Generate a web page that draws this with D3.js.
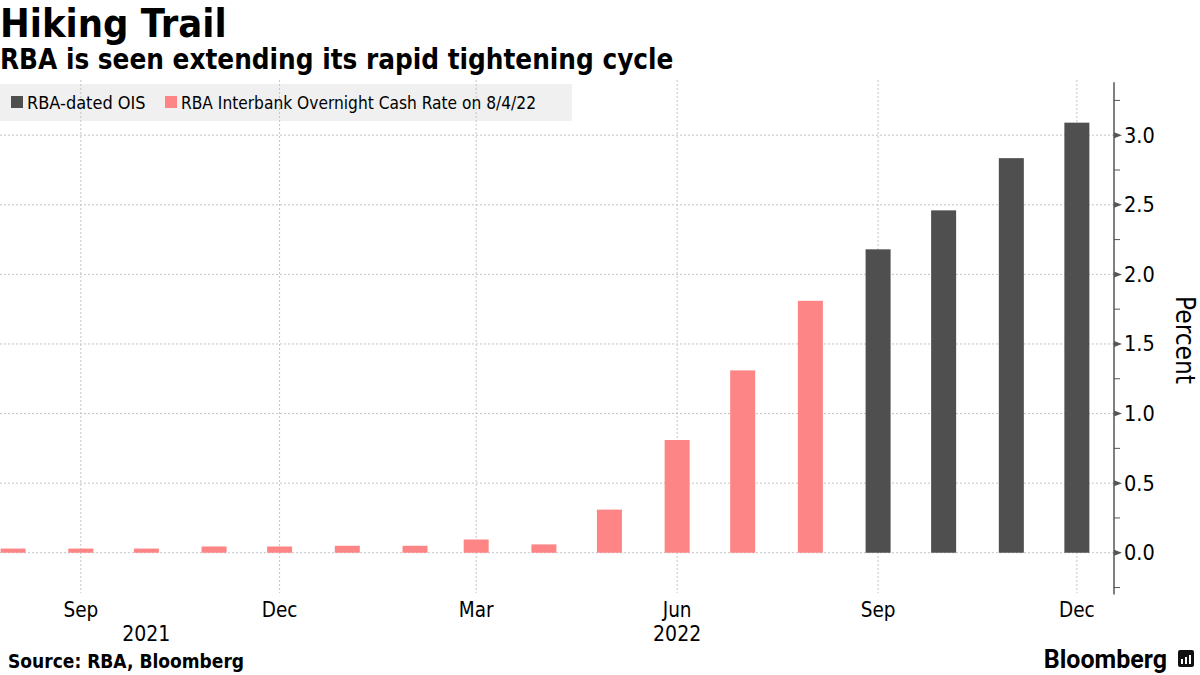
<!DOCTYPE html>
<html>
<head>
<meta charset="utf-8">
<script src="https://cdn.jsdelivr.net/npm/d3@7"></script>
<style>
  body { margin: 0; background: #fff; }
  svg text { font-family: "DejaVu Sans", sans-serif; font-stretch: condensed; fill: #000; }
</style>
</head>
<body>
<script>
var width = 1200,
    height = 675,
    axisX = 1114,
    barW = 25;

// data
var cashMonths = ["2021-08", "2021-09", "2021-10", "2021-11", "2021-12", "2022-01", "2022-02",
                  "2022-03", "2022-04", "2022-05", "2022-06", "2022-07", "2022-08"];
var cashRate = [0.03, 0.03, 0.03, 0.045, 0.045, 0.05, 0.05, 0.095, 0.06, 0.31, 0.81, 1.31, 1.81];
var oisMonths = ["2022-09", "2022-10", "2022-11", "2022-12"];
var oisRate = [2.18, 2.46, 2.835, 3.09];
var xTickMonths = ["2021-09", "2021-12", "2022-03", "2022-06", "2022-09", "2022-12"];
var xTickLabels = ["Sep", "Dec", "Mar", "Jun", "Sep", "Dec"];
var yearLabels = [{ label: "2021", at: "2021-10-01" }, { label: "2022", at: "2022-06-01" }];
var yTicks = [0, 0.5, 1, 1.5, 2, 2.5, 3];

var colors = { ois: "#4f4f4f", cash: "#fe8585" };
var parseM = d3.timeParse("%Y-%m"),
    parseD = d3.timeParse("%Y-%m-%d");

var svg = d3.select("body").append("svg")
    .attr("width", width)
    .attr("height", height);

var x = d3.scaleTime()
    .domain([parseD("2021-07-26"), parseD("2022-12-18")])
    .range([0, axisX]);

var y = d3.scaleLinear()
    .domain([-0.3, 3.38])
    .range([594.5, 82.3]);

// titles
svg.append("text").attr("x", 0).attr("y", 37)
    .style("font-size", "39.5px").style("font-weight", "bold")
    .text("Hiking Trail");
svg.append("text").attr("x", 0).attr("y", 69)
    .style("font-size", "27.6px").style("font-weight", "bold")
    .text("RBA is seen extending its rapid tightening cycle");

// legend background
svg.append("rect")
    .attr("x", 0).attr("y", 84)
    .attr("width", 572).attr("height", 37)
    .style("fill", "#f0f0f0");

// grid
var grid = svg.append("g");
grid.selectAll(".vg").data(xTickMonths).enter().append("line")
    .attr("x1", function(d) { return x(parseM(d)); })
    .attr("x2", function(d) { return x(parseM(d)); })
    .attr("y1", 80).attr("y2", 593)
    .style("stroke", "#c4c4c4").style("stroke-dasharray", "2,2");
grid.selectAll(".hg").data(yTicks).enter().append("line")
    .attr("x1", 0).attr("x2", axisX)
    .attr("y1", function(d) { return y(d); })
    .attr("y2", function(d) { return y(d); })
    .style("stroke", "#c4c4c4").style("stroke-dasharray", "2,2");

// legend items
var legend = [
    { name: "RBA-dated OIS", c: colors.ois, x: 11, fs: 18 },
    { name: "RBA Interbank Overnight Cash Rate on 8/4/22", c: colors.cash, x: 165, fs: 17.2 }
];
legend.forEach(function(l) {
    svg.append("rect").attr("x", l.x).attr("y", 96).attr("width", 12).attr("height", 12).style("fill", l.c);
    svg.append("text").attr("x", l.x + 16).attr("y", 109)
        .style("font-size", l.fs + "px").text(l.name);
});

// bars
function drawBars(months, vals, c) {
    svg.append("g").selectAll("rect").data(vals).enter().append("rect")
        .attr("x", function(d, i) { return x(parseM(months[i])) - barW / 2; })
        .attr("y", function(d) { return y(d); })
        .attr("width", barW)
        .attr("height", function(d) { return y(0) - y(d); })
        .style("fill", c);
}
drawBars(cashMonths, cashRate, colors.cash);
drawBars(oisMonths, oisRate, colors.ois);

// y axis
var yAxis = svg.append("g").attr("transform", "translate(" + axisX + ",0)");
yAxis.append("line").attr("y1", y(3.38)).attr("y2", y(-0.3)).style("stroke", "#555").style("stroke-width", 1.5);
var minor = d3.range(-0.25, 3.3, 0.5);
yAxis.selectAll(".mn").data(minor).enter().append("line")
    .attr("x1", 0).attr("x2", 6)
    .attr("y1", function(d) { return y(d); }).attr("y2", function(d) { return y(d); })
    .style("stroke", "#555");
yAxis.selectAll(".mj").data(yTicks).enter().append("path")
    .attr("d", function(d) { var yy = y(d); return "M0," + (yy - 3) + "L8," + yy + "L0," + (yy + 3) + "Z"; })
    .style("fill", "#555");
yAxis.selectAll(".yl").data(yTicks).enter().append("text")
    .attr("x", 10).attr("y", function(d) { return y(d) + 7.5; })
    .style("font-size", "21.5px")
    .text(d3.format(".1f"));
svg.append("text")
    .attr("transform", "translate(1176," + 340 + ") rotate(90)")
    .attr("text-anchor", "middle")
    .style("font-size", "26px")
    .text("Percent");

// x labels
svg.selectAll(".xl").data(xTickMonths).enter().append("text")
    .attr("x", function(d) { return x(parseM(d)); })
    .attr("y", 617)
    .attr("text-anchor", "middle")
    .style("font-size", "20.5px")
    .text(function(d, i) { return xTickLabels[i]; });
svg.selectAll(".yr").data(yearLabels).enter().append("text")
    .attr("x", function(d) { return x(parseD(d.at)); })
    .attr("y", 641)
    .attr("text-anchor", "middle")
    .style("font-size", "21px")
    .text(function(d) { return d.label; });

// footer
svg.append("text").attr("x", 8).attr("y", 668)
    .style("font-size", "19px").style("font-weight", "bold")
    .text("Source: RBA, Bloomberg");
svg.append("text").attr("x", 1167).attr("y", 668)
    .attr("text-anchor", "end")
    .style("font-family", "Roboto, sans-serif").style("font-stretch", "normal")
    .style("font-size", "25px").style("font-weight", "bold")
    .text("Bloomberg");
svg.append("rect").attr("x", 1178).attr("y", 650).attr("width", 16).attr("height", 17).attr("rx", 2).style("fill", "#111");
[3, 7, 11].forEach(function(dx, i) {
    svg.append("rect").attr("x", 1178 + dx).attr("y", 659 - i * 2).attr("width", 2).attr("height", 5 + i * 2).style("fill", "#fff");
});
</script>
</body>
</html>
